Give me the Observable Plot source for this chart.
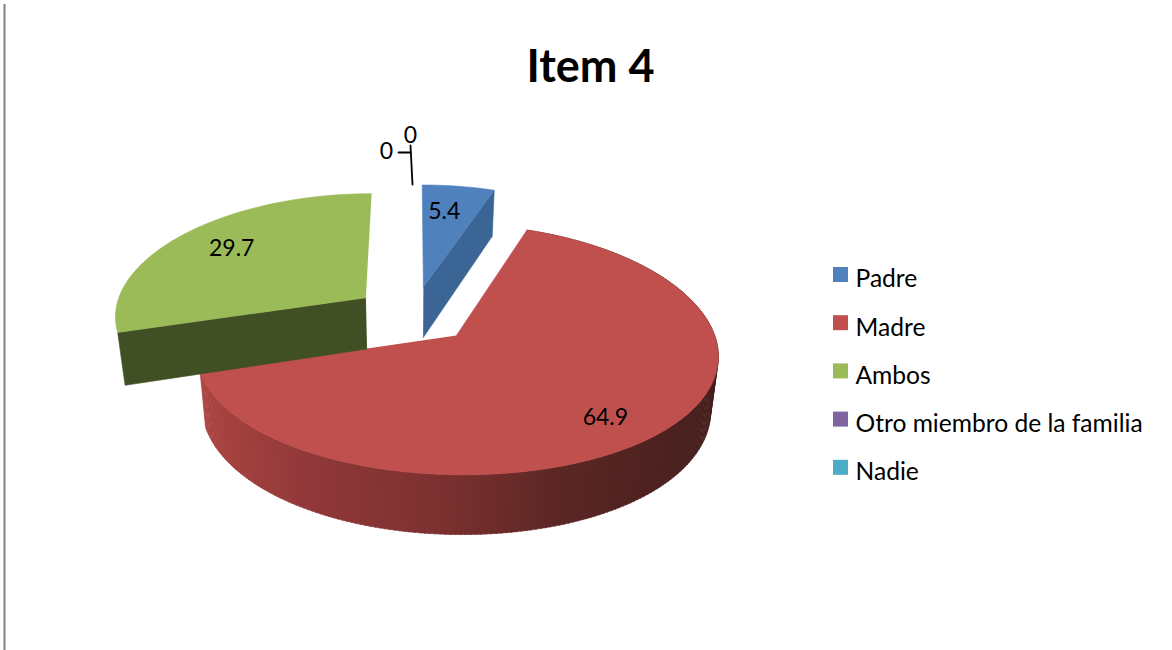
<!DOCTYPE html>
<html>
<head>
<meta charset="utf-8">
<style>html,body{margin:0;padding:0;background:#fff;overflow:hidden}</style>
<script src="https://cdn.jsdelivr.net/npm/d3@7"></script>
<script src="https://cdn.jsdelivr.net/npm/@observablehq/plot@0.6"></script>
</head>
<body>
<script>
// ---- data
const titleText = "Item 4";
const categories = ["Padre", "Madre", "Ambos", "Otro miembro de la familia", "Nadie"];
const values = [5.4, 64.9, 29.7, 0, 0];
const sliceColors = ["#4f81bd", "#c0504d", "#9bbb59", "#8064a2", "#4bacc6"];
const faceColors = ["#3b6595", null, "#414f24", null, null];

// ---- pie geometry (plane -> page)
const W = 1172, H = 650, FONT = "Lato, Carlito, sans-serif";
const cx = 413, cy = 314, rx = 252, ry = 119, k = 0.11, kx = 0.14, depth = 52, shrink = 0.975, explode = 0.24;
const total = d3.sum(values);
let run = 0;
const slices = values.map((v, i) => {
  const a0 = run / total * 360; run += v; const a1 = run / total * 360;
  const m = (a0 + a1) / 2 * Math.PI / 180;
  return {i, v, a0, a1, ou: explode * Math.sin(m), ov: -explode * Math.cos(m)};
});
const rad = d => d * Math.PI / 180;
function topPt(s, a, r = 1) {
  const u = s.ou + r * Math.sin(rad(a)), v = s.ov - r * Math.cos(rad(a));
  const p = 1 / (1 - k * v);
  return [cx + rx * u / (1 - kx * v), cy + ry * v * p, p];
}
function botPt(s, a, r = 1) {
  const [x, y, p] = topPt(s, a, r);
  return [cx + (x - cx) * shrink, y + depth * p];
}
const polys = [];
let pid = 0;
function poly(points, color) {
  const id = pid++;
  points.forEach(q => polys.push({id, x: q[0], y: q[1], color}));
}
function sector(s) {
  const pts = [topPt(s, s.a0, 0)];
  const n = Math.max(2, Math.ceil((s.a1 - s.a0) / 2));
  for (let j = 0; j <= n; j++) pts.push(topPt(s, s.a0 + (s.a1 - s.a0) * j / n));
  poly(pts, sliceColors[s.i]);
}
function radialFace(s, a) {
  poly([topPt(s, a, 0), topPt(s, a), botPt(s, a), botPt(s, a, 0)], faceColors[s.i]);
}
const wallShade = d3.scaleLinear()
  .domain([200, 300, 450, 560, 720])
  .range(["#ab4542", "#93393a", "#7a302f", "#5c2725", "#451f1d"])
  .clamp(true);
function wall(s) {
  const n = Math.ceil(s.a1 - s.a0);
  for (let j = 0; j < n; j++) {
    const a = s.a0 + (s.a1 - s.a0) * j / n, b = s.a0 + (s.a1 - s.a0) * (j + 1) / n + 0.3;
    const t = topPt(s, a);
    poly([t, topPt(s, b), botPt(s, b), botPt(s, a)], wallShade(t[0]));
  }
}
wall(slices[1]);
sector(slices[1]);
radialFace(slices[2], slices[2].a0);
sector(slices[2]);
radialFace(slices[0], slices[0].a1);
sector(slices[0]);

// ---- value labels sit on their slice
const labelRadius = [0.73, 0.8, 0.74];
const labelTurn = [-2, 4, 0.8];
const valueLabels = slices.slice(0, 3).map(s => {
  const t = topPt(s, (s.a0 + s.a1) / 2 + labelTurn[s.i], labelRadius[s.i]);
  return {x: t[0], y: t[1], text: String(s.v)};
});
const zeroLabels = [
  {x: 386, y: 151, text: String(values[3])},
  {x: 410, y: 135, text: String(values[4])}
];
const leaders = [
  {id: 0, x: 398, y: 152}, {id: 0, x: 410, y: 152},
  {id: 1, x: 410, y: 145}, {id: 1, x: 412, y: 184}
];

// ---- legend
const legendX = 833, legendTop = 267, legendStep = 48.2, swatch = 15;
const legend = categories.map((name, i) => ({name, i, y: legendTop + i * legendStep}));

const chart = Plot.plot({
  width: W, height: H,
  marginTop: 0, marginRight: 0, marginBottom: 0, marginLeft: 0,
  x: {domain: [0, W], range: [0, W], axis: null},
  y: {domain: [0, H], range: [0, H], axis: null},
  color: {type: "identity"},
  style: {background: "#fff", fontFamily: FONT},
  marks: [
    Plot.ruleX([4], {y1: 4, y2: H, stroke: "#808080", strokeWidth: 2}),
    Plot.line(polys, {x: "x", y: "y", z: "id", fill: "color", stroke: "color", strokeWidth: 0.6, curve: "linear"}),
    Plot.line(leaders, {x: "x", y: "y", z: "id", stroke: "#000", strokeWidth: 1.8}),
    Plot.text(valueLabels.concat(zeroLabels), {x: "x", y: "y", text: "text", fontSize: 23, fontFamily: FONT, fill: "#000"}),
    Plot.text([titleText], {x: () => 590, y: () => 67, fontSize: 45, fontWeight: 700, fontFamily: FONT, fill: "#000"}),
    Plot.rect(legend, {x1: () => legendX, x2: () => legendX + swatch, y1: "y", y2: d => d.y + swatch, fill: d => sliceColors[d.i]}),
    Plot.text(legend, {x: () => 855, y: d => d.y + 12, text: "name", textAnchor: "start", fontSize: 24.6, fontFamily: FONT, fill: "#000"})
  ]
});
document.body.appendChild(chart);
</script>
</body>
</html>
